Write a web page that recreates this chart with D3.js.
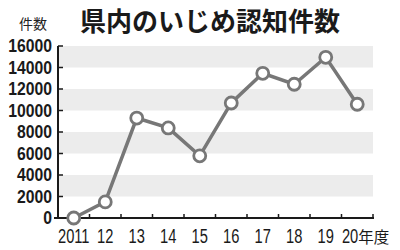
<!DOCTYPE html>
<html>
  <head>
    <meta charset="utf-8">
    <title>県内のいじめ認知件数</title>
    <script src="https://cdn.jsdelivr.net/npm/d3@7/dist/d3.min.js"></script>
  </head>
  <style>
    body { margin: 0; background: #fff; }
    text { font-family: "Liberation Sans", Arial, sans-serif; }
    .jp { font-family: "Noto Sans CJK JP", sans-serif; }
  </style>
  <body>
    <script>

      var years = ["2011", "12", "13", "14", "15", "16", "17", "18", "19", "20"];
      var counts = [0, 1500, 9300, 8380, 5780, 10700, 13460, 12440, 14950, 10580];
      var yTicks = [0, 2000, 4000, 6000, 8000, 10000, 12000, 14000, 16000];

      var width = 400,
        height = 250;

      var svg = d3.select("body")
        .append("svg")
        .attr("width", width)
        .attr("height", height);

      var x = d3.scaleBand()
        .domain(years)
        .range([58, 373]);

      var y = d3.scaleLinear()
        .domain([0, 16000])
        .range([218, 46]);

      var cx = d => x(d) + x.bandwidth() / 2;

      // title
      svg.append("text")
        .attr("class", "jp")
        .attr("x", 210)
        .attr("y", 31)
        .attr("text-anchor", "middle")
        .attr("font-size", 26)
        .attr("font-weight", "bold")
        .attr("fill", "#1a1a1a")
        .text("県内のいじめ認知件数");

      svg.append("text")
        .attr("class", "jp")
        .attr("x", 33)
        .attr("y", 29)
        .attr("text-anchor", "middle")
        .attr("font-size", 14)
        .attr("fill", "#222")
        .text("件数");

      // grey bands
      var bands = [[14000, 16000], [10000, 12000], [6000, 8000], [2000, 4000]];
      svg.selectAll(".band")
        .data(bands)
        .enter()
        .append("rect")
        .attr("x", 59)
        .attr("width", 373 - 59)
        .attr("y", d => y(d[1]))
        .attr("height", d => y(d[0]) - y(d[1]))
        .attr("fill", "#ececec");

      // y tick labels (condensed)
      svg.selectAll(".ylab")
        .data(yTicks)
        .enter()
        .append("text")
        .attr("transform", d => "translate(52," + y(d) + ") scale(0.9,1)")
        .attr("dy", "0.36em")
        .attr("text-anchor", "end")
        .attr("font-size", 17.5)
        .attr("font-weight", "bold")
        .attr("fill", "#1a1a1a")
        .text(d => d);

      // axes
      var ax = svg.append("g")
        .attr("stroke", "#1a1a1a")
        .attr("stroke-width", 2)
        .attr("fill", "none");

      ax.append("path")
        .attr("d", "M58," + y(16000) + "V" + y(0) + "H374");

      ax.selectAll(".yt")
        .data(yTicks.slice(1))
        .enter()
        .append("line")
        .attr("x1", 58)
        .attr("x2", 63)
        .attr("y1", d => y(d))
        .attr("y2", d => y(d))
        .attr("stroke-width", 1.5);

      ax.append("path")
        .attr("d", "M54," + y(0) + "H58");

      ax.selectAll(".xt")
        .data(years.slice(1))
        .enter()
        .append("line")
        .attr("x1", d => x(d))
        .attr("x2", d => x(d))
        .attr("y1", y(0))
        .attr("y2", y(0) - 4)
        .attr("stroke-width", 1.5);

      ax.append("line")
        .attr("x1", 373)
        .attr("x2", 373)
        .attr("y1", y(0))
        .attr("y2", y(0) - 4)
        .attr("stroke-width", 1.5);

      // x labels (condensed)
      svg.selectAll(".xlab")
        .data(years.slice(0, -1))
        .enter()
        .append("text")
        .attr("transform", d => "translate(" + cx(d) + ",243) scale(0.7,1)")
        .attr("text-anchor", "middle")
        .attr("font-size", 21)
        .attr("fill", "#1a1a1a")
        .text(d => d);

      svg.append("text")
        .attr("transform", "translate(" + (cx("20") + 1) + ",243) scale(0.7,1)")
        .attr("text-anchor", "end")
        .attr("font-size", 21)
        .attr("fill", "#1a1a1a")
        .text("20");

      svg.append("text")
        .attr("class", "jp")
        .attr("x", cx("20") + 1)
        .attr("y", 243)
        .attr("font-size", 15.5)
        .attr("fill", "#1a1a1a")
        .text("年度");

      // line
      var line = d3.line()
        .x((d, i) => cx(years[i]))
        .y(d => y(d));

      svg.append("path")
        .datum(counts)
        .attr("d", line)
        .attr("fill", "none")
        .attr("stroke", "#777")
        .attr("stroke-width", 3.5);

      svg.selectAll(".pt")
        .data(counts)
        .enter()
        .append("circle")
        .attr("cx", (d, i) => cx(years[i]))
        .attr("cy", d => y(d))
        .attr("r", 6)
        .attr("fill", "#fff")
        .attr("stroke", "#777")
        .attr("stroke-width", 2.8);

    </script>
  </body>
</html>
